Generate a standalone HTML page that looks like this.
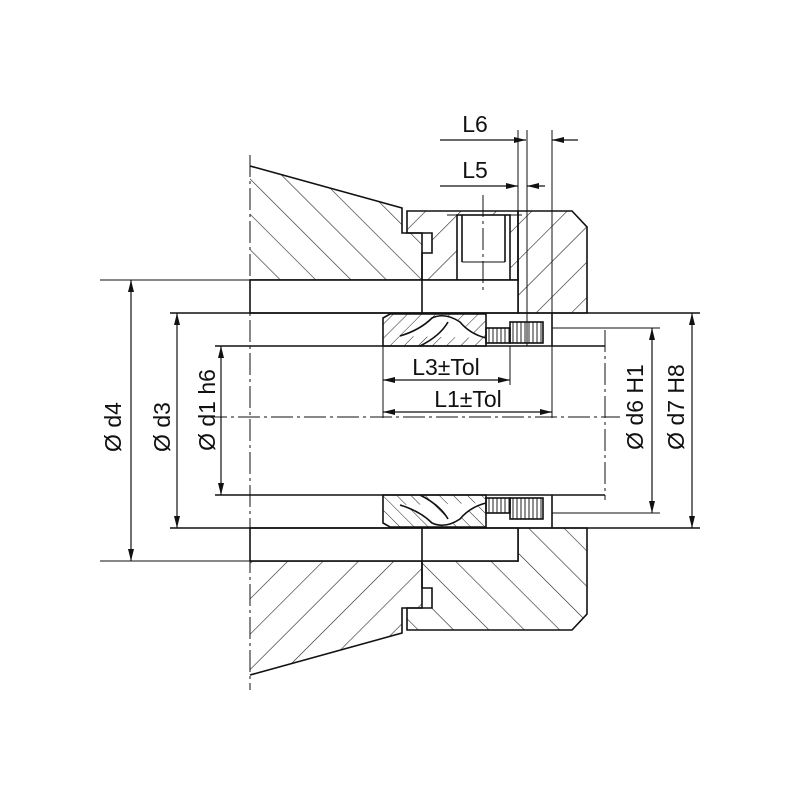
<!DOCTYPE html>
<html><head><meta charset="utf-8"><style>html,body{margin:0;padding:0;background:#fff}svg{display:block}text{font-family:"Liberation Sans",sans-serif;font-size:23px;fill:#111}</style></head><body>
<svg width="800" height="800" viewBox="0 0 800 800" xmlns="http://www.w3.org/2000/svg">
<defs>
<marker id="a" viewBox="0 0 12 6" refX="12" refY="3" markerWidth="12" markerHeight="6" orient="auto-start-reverse" markerUnits="userSpaceOnUse"><path d="M0,0L12,3L0,6z" fill="#111"/></marker>
<pattern id="hf" patternUnits="userSpaceOnUse" width="25" height="25" patternTransform="rotate(45)"><line x1="0" y1="0" x2="0" y2="25" stroke="#222" stroke-width="1.2"/></pattern>
<pattern id="hb" patternUnits="userSpaceOnUse" width="25" height="25" patternTransform="rotate(-45)"><line x1="0" y1="0" x2="0" y2="25" stroke="#222" stroke-width="1.2"/></pattern>
<pattern id="sf" patternUnits="userSpaceOnUse" width="10" height="10" patternTransform="rotate(45)"><line x1="0" y1="0" x2="0" y2="10" stroke="#222" stroke-width="1"/></pattern>
<pattern id="sb" patternUnits="userSpaceOnUse" width="10" height="10" patternTransform="rotate(-45)"><line x1="0" y1="0" x2="0" y2="10" stroke="#222" stroke-width="1"/></pattern>
<pattern id="vl" patternUnits="userSpaceOnUse" width="4" height="10"><line x1="1" y1="0" x2="1" y2="10" stroke="#222" stroke-width="1"/></pattern>
</defs>
<g stroke="#111" stroke-width="1.6" fill="none">
<path d="M250,166 L402,208 L402,233 L422,233 L422,280 L250,280" fill="url(#hb)"/>
<path d="M407,211 L518,211 L518,280 L422,280 L422,253 L432,253 L432,233 L407,233 Z" fill="url(#hf)"/>
<rect x="457" y="215" width="53" height="65" fill="#fff"/>
<line x1="462" y1="215" x2="462" y2="262"/><line x1="505" y1="215" x2="505" y2="262"/><line x1="462" y1="262" x2="505" y2="262" stroke-width="1"/>
<line x1="447" y1="215" x2="522" y2="215" stroke-width="1"/>
<path d="M518,211 L572,211 L587,227 L587,313 L518,313 Z" fill="url(#hf)"/>
<rect x="250" y="280" width="268" height="33" fill="#fff"/>
<line x1="422" y1="280" x2="422" y2="313"/>
<path d="M250,675 L402,633 L402,608 L422,608 L422,561 L250,561" fill="url(#hf)"/>
<path d="M407,630 L572,630 L587,614 L587,528 L518,528 L518,561 L422,561 L422,588 L432,588 L432,608 L407,608 Z" fill="url(#hb)"/>
<rect x="250" y="528" width="268" height="33" fill="#fff"/>
<line x1="422" y1="528" x2="422" y2="561"/>
<line x1="100" y1="280" x2="250" y2="280" stroke-width="1"/>
<line x1="100" y1="561" x2="250" y2="561" stroke-width="1"/>
<line x1="170" y1="313" x2="700" y2="313"/>
<line x1="170" y1="528" x2="700" y2="528"/>
<line x1="215" y1="346" x2="605" y2="346"/>
<line x1="215" y1="495" x2="605" y2="495"/>
<line x1="552" y1="328" x2="660" y2="328" stroke-width="1"/>
<line x1="552" y1="513" x2="660" y2="513" stroke-width="1"/>
<line x1="552" y1="313" x2="552" y2="346"/>
<line x1="552" y1="495" x2="552" y2="528"/>
<path d="M383,318 L390,314 L486,314 L486,346 L383,346 Z" fill="url(#sf)"/>
<path d="M400,336 Q420,330 432,318 Q445,312 460,322 Q470,334 486,338 M420,346 Q440,336 448,322" stroke-width="1.6" fill="#fff"/>
<rect x="486" y="328" width="24" height="15" fill="url(#vl)"/>
<rect x="510" y="322" width="33" height="21" fill="url(#vl)"/>
<path d="M383,523 L390,527 L486,527 L486,495 L383,495 Z" fill="url(#sb)"/>
<path d="M400,505 Q420,511 432,523 Q445,529 460,519 Q470,507 486,503 M420,495 Q440,505 448,519" stroke-width="1.6" fill="#fff"/>
<rect x="486" y="498" width="24" height="15" fill="url(#vl)"/>
<rect x="510" y="498" width="33" height="21" fill="url(#vl)"/>
<line x1="518" y1="130" x2="518" y2="211" stroke-width="1"/>
<line x1="527" y1="130" x2="527" y2="346" stroke-width="1"/>
<line x1="552" y1="130" x2="552" y2="313" stroke-width="1"/>
<line x1="510" y1="346" x2="510" y2="385" stroke-width="1"/>
<line x1="383" y1="346" x2="383" y2="418" stroke-width="1"/>
<line x1="552" y1="346" x2="552" y2="418" stroke-width="1"/>
<g stroke-width="1.2">
<line x1="440" y1="140" x2="526" y2="140" marker-end="url(#a)"/>
<line x1="578" y1="140" x2="552" y2="140" marker-end="url(#a)"/>
<line x1="440" y1="186" x2="518" y2="186" marker-end="url(#a)"/>
<line x1="545" y1="186" x2="527" y2="186" marker-end="url(#a)"/>
<line x1="383" y1="380" x2="510" y2="380" marker-start="url(#a)" marker-end="url(#a)"/>
<line x1="383" y1="412" x2="552" y2="412" marker-start="url(#a)" marker-end="url(#a)"/>
<line x1="131" y1="280" x2="131" y2="561" marker-start="url(#a)" marker-end="url(#a)"/>
<line x1="177" y1="313" x2="177" y2="528" marker-start="url(#a)" marker-end="url(#a)"/>
<line x1="221" y1="346" x2="221" y2="495" marker-start="url(#a)" marker-end="url(#a)"/>
<line x1="652" y1="328" x2="652" y2="513" marker-start="url(#a)" marker-end="url(#a)"/>
<line x1="692" y1="313" x2="692" y2="528" marker-start="url(#a)" marker-end="url(#a)"/>
</g>
<g stroke-width="1" stroke-dasharray="22,4,3,4">
<line x1="250" y1="155" x2="250" y2="690"/>
<line x1="205" y1="417" x2="620" y2="417"/>
<line x1="605" y1="330" x2="605" y2="500"/>
<line x1="483" y1="195" x2="483" y2="290"/>
</g>
</g>
<text x="475" y="132" text-anchor="middle">L6</text>
<text x="475" y="178" text-anchor="middle">L5</text>
<text x="446" y="375" text-anchor="middle">L3±Tol</text>
<text x="468" y="407" text-anchor="middle">L1±Tol</text>
<text transform="translate(121,427) rotate(-90)" text-anchor="middle">Ø d4</text>
<text transform="translate(170,427) rotate(-90)" text-anchor="middle">Ø d3</text>
<text transform="translate(215,410) rotate(-90)" text-anchor="middle">Ø d1 h6</text>
<text transform="translate(643,407) rotate(-90)" text-anchor="middle">Ø d6 H1</text>
<text transform="translate(684,407) rotate(-90)" text-anchor="middle">Ø d7 H8</text>
</svg>
</body></html>
